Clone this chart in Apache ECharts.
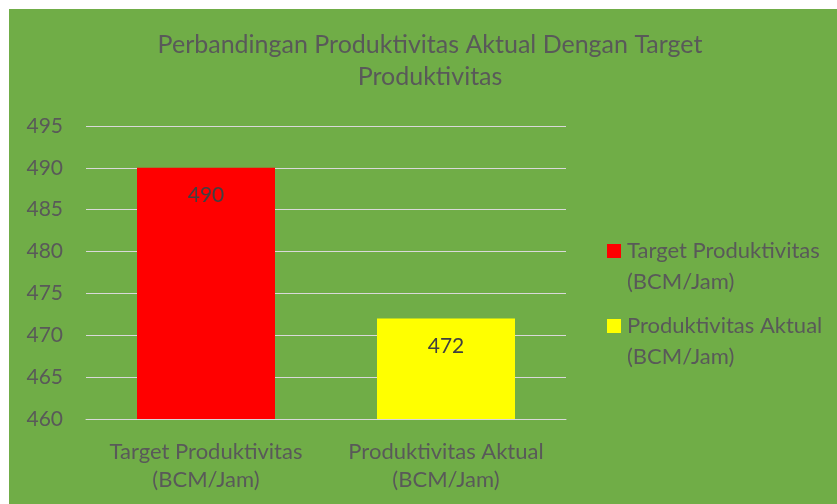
<!DOCTYPE html>
<html>
<head>
<meta charset="utf-8">
<script src="https://cdn.jsdelivr.net/npm/echarts@6/dist/echarts.min.js"></script>
<style>
  html, body { margin: 0; padding: 0; background: #ffffff; }
  #chart { position: absolute; left: 9px; top: 9px; width: 828px; height: 495px; }
</style>
</head>
<body>
<div id="chart"></div>
<script>
// data
const categories = ['Target Produktivitas\n(BCM/Jam)', 'Produktivitas Aktual\n(BCM/Jam)'];
const seriesNames = ['Target Produktivitas (BCM/Jam)', 'Produktivitas Aktual (BCM/Jam)'];
const targetValues = [490, '-'];
const actualValues = ['-', 472];
const yTicks = { min: 460, max: 495, interval: 5 };

const font = 'Lato';
const textGrey = '#595959';

const chart = echarts.init(document.getElementById('chart'));

const legendText = {
    [seriesNames[0]]: '{r|}{g|}{t|Target Produktivitas}\n{i|}{t|(BCM/Jam)}',
    [seriesNames[1]]: '{y|}{g|}{t|Produktivitas Aktual}\n{i|}{t|(BCM/Jam)}'
};

chart.setOption({
    backgroundColor: '#70AD47',
    animation: false,
    title: {
        text: 'Perbandingan Produktivitas Aktual Dengan Target\nProduktivitas',
        left: 416,
        top: 15,
        textAlign: 'center',
        textStyle: {
            fontFamily: font,
            fontSize: 25,
            fontWeight: 'normal',
            color: textGrey,
            lineHeight: 32
        }
    },
    legend: {
        orient: 'vertical',
        left: 588,
        top: 226,
        icon: 'none',
        itemWidth: 0,
        itemHeight: 14,
        itemGap: 22,
        data: seriesNames,
        formatter: name => legendText[name],
        textStyle: {
            fontFamily: font,
            fontSize: 22,
            color: textGrey,
            rich: {
                r: { width: 14, height: 14, backgroundColor: '#FF0000' },
                y: { width: 14, height: 14, backgroundColor: '#FFFF00' },
                g: { width: 6 },
                i: { width: 20 },
                t: { fontFamily: font, fontSize: 22, color: textGrey, lineHeight: 31 }
            }
        }
    },
    grid: {
        left: 77,
        right: 271,
        top: 117,
        bottom: 85
    },
    xAxis: {
        type: 'category',
        data: categories,
        axisTick: { show: false },
        axisLine: { lineStyle: { color: '#D9D9D9', width: 1 } },
        axisLabel: {
            interval: 0,
            fontFamily: font,
            fontSize: 22,
            color: textGrey,
            lineHeight: 28,
            margin: 19
        }
    },
    yAxis: {
        type: 'value',
        min: yTicks.min,
        max: yTicks.max,
        interval: yTicks.interval,
        axisLine: { show: false },
        axisTick: { show: false },
        splitLine: { lineStyle: { color: '#D9D9D9', width: 1 } },
        axisLabel: {
            fontFamily: font,
            fontSize: 21,
            color: textGrey,
            margin: 23
        }
    },
    series: [
        {
            name: seriesNames[0],
            type: 'bar',
            data: targetValues,
            barWidth: '57.5%',
            barGap: '-100%',
            itemStyle: { color: '#FF0000' },
            label: {
                show: true,
                position: 'insideTop',
                distance: 17,
                fontFamily: font,
                fontSize: 21,
                color: '#404040'
            }
        },
        {
            name: seriesNames[1],
            type: 'bar',
            data: actualValues,
            barWidth: '57.5%',
            itemStyle: { color: '#FFFF00' },
            label: {
                show: true,
                position: 'insideTop',
                distance: 17,
                fontFamily: font,
                fontSize: 21,
                color: '#404040'
            }
        }
    ]
});
</script>
</body>
</html>
